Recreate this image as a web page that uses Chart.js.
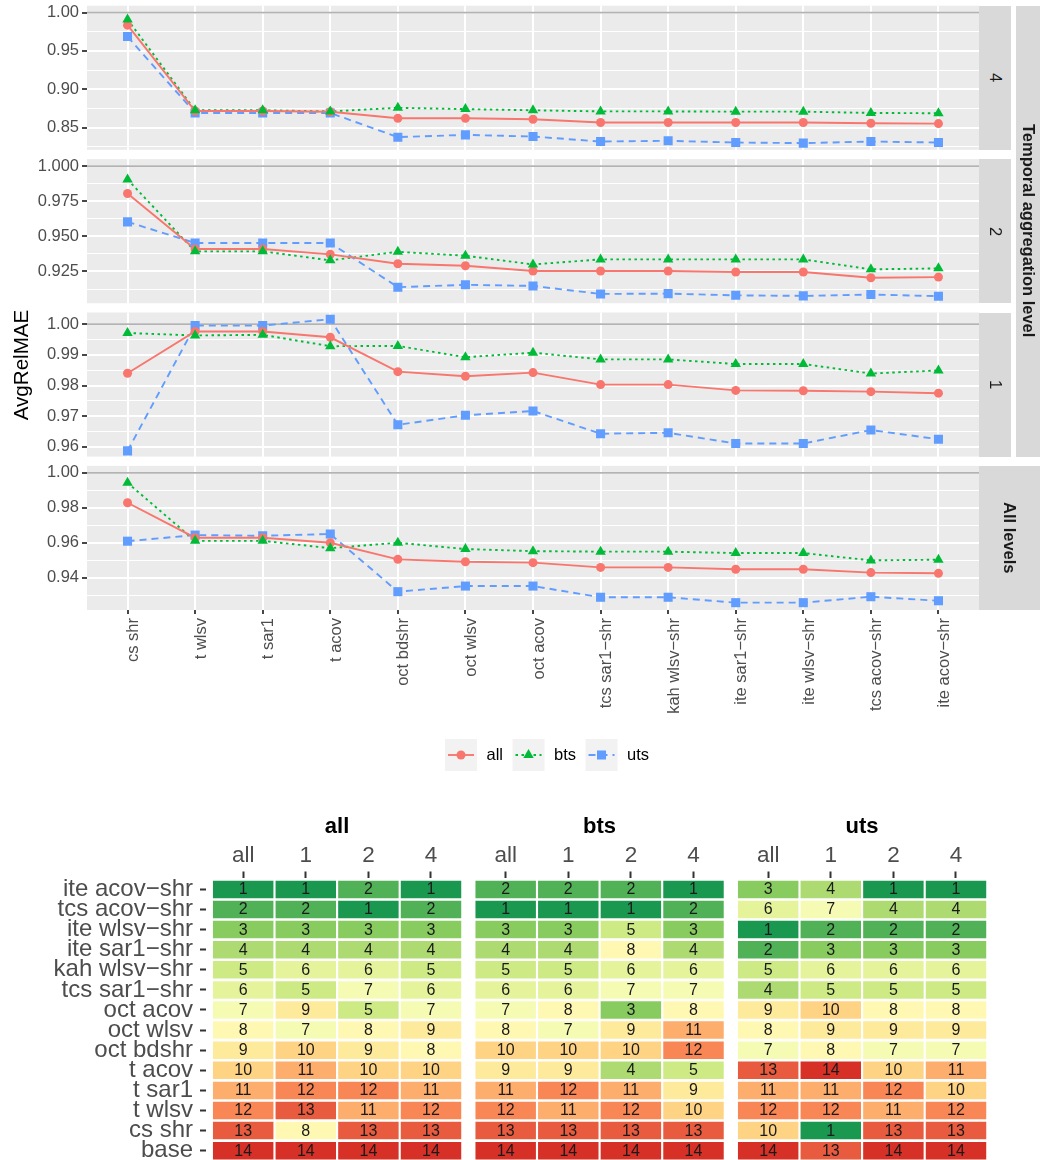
<!DOCTYPE html>
<html>
<head>
<meta charset="utf-8">
<script src="https://cdn.jsdelivr.net/npm/chart.js@4.4.1/dist/chart.umd.min.js"></script>
<style>
  html, body { margin: 0; padding: 0; background: #fff; }
  body { width: 1040px; height: 1160px; overflow: hidden; position: relative;
         font-family: "Liberation Sans", Arial, Helvetica, sans-serif; }
  canvas { position: absolute; left: 0; }
  .strip { position: absolute; background: #d9d9d9; display: flex; align-items: center;
           justify-content: center; z-index: 2; }
  .strip span { writing-mode: vertical-rl; font-size: 16.5px; color: #1a1a1a; white-space: nowrap; }
  .strip span.b { font-weight: bold; }
  #ytitle { position: absolute; left: -79px; top: 353px; width: 200px; height: 24px; line-height: 24px;
            text-align: center; font-size: 20.6px; color: #000; transform: rotate(-90deg); z-index: 2; }
</style>
</head>
<body>
<div id="ytitle">AvgRelMAE</div>
<script>
// ---- line panels: methods on the x axis ----
const methods = ['cs shr', 't wlsv', 't sar1', 't acov', 'oct bdshr', 'oct wlsv', 'oct acov',
  'tcs sar1−shr', 'kah wlsv−shr', 'ite sar1−shr', 'ite wlsv−shr', 'tcs acov−shr', 'ite acov−shr'];

// temporal aggregation level 4
const lvl4All = [0.9836, 0.8715, 0.8715, 0.8705, 0.8620, 0.8620, 0.8608, 0.8565, 0.8565, 0.8565, 0.8565, 0.8556, 0.8551];
const lvl4Bts = [0.9910, 0.8725, 0.8725, 0.8710, 0.8757, 0.8740, 0.8725, 0.8710, 0.8710, 0.8707, 0.8707, 0.8690, 0.8686];
const lvl4Uts = [0.9687, 0.8690, 0.8690, 0.8690, 0.8374, 0.8404, 0.8382, 0.8317, 0.8326, 0.8304, 0.8296, 0.8317, 0.8304];
// level 2
const lvl2All = [0.9805, 0.9410, 0.9410, 0.9372, 0.9305, 0.9291, 0.9253, 0.9253, 0.9253, 0.9246, 0.9246, 0.9205, 0.9210];
const lvl2Bts = [0.9905, 0.9393, 0.9393, 0.9329, 0.9390, 0.9362, 0.9300, 0.9336, 0.9336, 0.9336, 0.9336, 0.9265, 0.9272];
const lvl2Uts = [0.9603, 0.9453, 0.9453, 0.9453, 0.9138, 0.9155, 0.9147, 0.9090, 0.9092, 0.9080, 0.9076, 0.9086, 0.9074];
// level 1
const lvl1All = [0.9840, 0.9976, 0.9976, 0.9957, 0.9845, 0.9830, 0.9842, 0.9803, 0.9803, 0.9784, 0.9783, 0.9780, 0.9775];
const lvl1Bts = [0.9971, 0.9963, 0.9965, 0.9928, 0.9929, 0.9892, 0.9907, 0.9885, 0.9885, 0.9870, 0.9870, 0.9839, 0.9849];
const lvl1Uts = [0.9587, 0.9995, 0.9995, 1.0016, 0.9672, 0.9703, 0.9717, 0.9643, 0.9646, 0.9611, 0.9611, 0.9655, 0.9625];
// all levels
const lvlAAll = [0.9829, 0.9629, 0.9629, 0.9600, 0.9505, 0.9491, 0.9486, 0.9459, 0.9459, 0.9448, 0.9448, 0.9429, 0.9425];
const lvlABts = [0.9943, 0.9611, 0.9611, 0.9569, 0.9600, 0.9564, 0.9552, 0.9549, 0.9549, 0.9541, 0.9541, 0.9499, 0.9503];
const lvlAUts = [0.9609, 0.9644, 0.9640, 0.9650, 0.9320, 0.9352, 0.9352, 0.9288, 0.9288, 0.9257, 0.9257, 0.9291, 0.9268];

// y ticks (major labelled, minor only gridlines) and ranges
const yMajor4 = [0.85, 0.90, 0.95, 1.00], yMinor4 = [0.825, 0.875, 0.925, 0.975], yRange4 = [0.8209, 1.009];
const yMajor2 = [0.925, 0.950, 0.975, 1.000], yMinor2 = [0.9125, 0.9375, 0.9625, 0.9875], yRange2 = [0.9024, 1.005];
const yMajor1 = [0.96, 0.97, 0.98, 0.99, 1.00], yMinor1 = [0.965, 0.975, 0.985, 0.995], yRange1 = [0.95684, 1.00378];
const yMajorA = [0.94, 0.96, 0.98, 1.00], yMinorA = [0.93, 0.95, 0.97, 0.99], yRangeA = [0.9215, 1.004];
const refLine = 1;

// ---- rank heatmaps ----
const rankRows = ['ite acov−shr', 'tcs acov−shr', 'ite wlsv−shr', 'ite sar1−shr', 'kah wlsv−shr', 'tcs sar1−shr',
  'oct acov', 'oct wlsv', 'oct bdshr', 't acov', 't sar1', 't wlsv', 'cs shr', 'base'];
const rankCols = ['all', '1', '2', '4'];
const rankGroups = ['all', 'bts', 'uts'];
const rAll_all = [1, 2, 3, 4, 5, 6, 7, 8, 9, 10, 11, 12, 13, 14];
const rAll_1   = [1, 2, 3, 4, 6, 5, 9, 7, 10, 11, 12, 13, 8, 14];
const rAll_2   = [2, 1, 3, 4, 6, 7, 5, 8, 9, 10, 12, 11, 13, 14];
const rAll_4   = [1, 2, 3, 4, 5, 6, 7, 9, 8, 10, 11, 12, 13, 14];
const rBts_all = [2, 1, 3, 4, 5, 6, 7, 8, 10, 9, 11, 12, 13, 14];
const rBts_1   = [2, 1, 3, 4, 5, 6, 8, 7, 10, 9, 12, 11, 13, 14];
const rBts_2   = [2, 1, 5, 8, 6, 7, 3, 9, 10, 4, 11, 12, 13, 14];
const rBts_4   = [1, 2, 3, 4, 6, 7, 8, 11, 12, 5, 9, 10, 13, 14];
const rUts_all = [3, 6, 1, 2, 5, 4, 9, 8, 7, 13, 11, 12, 10, 14];
const rUts_1   = [4, 7, 2, 3, 6, 5, 10, 9, 8, 14, 11, 12, 1, 13];
const rUts_2   = [1, 4, 2, 3, 6, 5, 8, 9, 7, 10, 12, 11, 13, 14];
const rUts_4   = [1, 4, 2, 3, 6, 5, 8, 9, 7, 11, 10, 12, 13, 14];

// ---------------------------------------------------------------
const FONT = '"Liberation Sans", Arial, Helvetica, sans-serif';
Chart.defaults.font.family = FONT;
const W = 1040;
const PANEL_L = 87, PANEL_R = 979, PANEL_H = 144.1, PAD = 16;
const panelTops = [5.7, 159.1, 312.5, 465.9];

const seriesDefs = [
  { name: 'all', color: '#F8766D', dash: [], style: 'circle', r: 4.5, top: 2 },
  { name: 'bts', color: '#00BA38', dash: [2.5, 3.5], style: 'triangle', r: 6, top: 1 },
  { name: 'uts', color: '#619CFF', dash: [7, 5], style: 'rect', r: 6.4, top: 3 },
];

const panels = [
  { strip: '4', values: [lvl4All, lvl4Bts, lvl4Uts], major: yMajor4, minor: yMinor4, range: yRange4, dec: 2 },
  { strip: '2', values: [lvl2All, lvl2Bts, lvl2Uts], major: yMajor2, minor: yMinor2, range: yRange2, dec: 3 },
  { strip: '1', values: [lvl1All, lvl1Bts, lvl1Uts], major: yMajor1, minor: yMinor1, range: yRange1, dec: 2 },
  { strip: 'All levels', values: [lvlAAll, lvlABts, lvlAUts], major: yMajorA, minor: yMinorA, range: yRangeA, dec: 2 },
];

function isIn(arr, v) { return arr.some(a => Math.abs(a - v) < 1e-9); }

function addStrip(left, top, width, height, text, bold) {
  const d = document.createElement('div');
  d.className = 'strip';
  Object.assign(d.style, { left: left + 'px', top: top + 'px', width: width + 'px', height: height + 'px' });
  const s = document.createElement('span');
  if (bold) s.className = 'b';
  s.textContent = text;
  d.appendChild(s);
  document.body.appendChild(d);
}

function drawMarker(ctx, style, x, y, r) {
  ctx.beginPath();
  if (style === 'circle') {
    ctx.arc(x, y, r, 0, Math.PI * 2);
  } else if (style === 'triangle') {
    ctx.moveTo(x, y - r);
    ctx.lineTo(x + r * 0.866, y + r / 2);
    ctx.lineTo(x - r * 0.866, y + r / 2);
    ctx.closePath();
  } else {
    const h = r * Math.SQRT1_2;
    ctx.rect(x - h, y - h, 2 * h, 2 * h);
  }
  ctx.fill();
}

const panelBg = {
  id: 'panelBg',
  beforeDraw(chart) {
    const a = chart.chartArea, ctx = chart.ctx;
    ctx.save();
    ctx.fillStyle = '#ebebeb';
    ctx.fillRect(a.left, a.top, a.right - a.left, a.bottom - a.top);
    ctx.restore();
  },
  beforeDatasetsDraw(chart) {
    const a = chart.chartArea, ctx = chart.ctx;
    const y = chart.scales.y.getPixelForValue(refLine);
    ctx.save();
    ctx.strokeStyle = '#b3b3b3';
    ctx.lineWidth = 1.9;
    ctx.beginPath();
    ctx.moveTo(a.left, y);
    ctx.lineTo(a.right, y);
    ctx.stroke();
    ctx.restore();
  }
};

panels.forEach((p, i) => {
  const isBottom = i === panels.length - 1;
  const pt = panelTops[i];
  const ctop = Math.floor(pt) - PAD;
  const cheight = isBottom ? 800 - ctop : Math.ceil(pt + PANEL_H) + PAD - ctop;
  const padTop = pt - ctop;
  const padBottom = isBottom ? 0 : cheight - (pt + PANEL_H - ctop);
  const xAxisH = isBottom ? cheight - padTop - PANEL_H : 0;

  const cv = document.createElement('canvas');
  cv.width = W; cv.height = cheight;
  cv.style.top = ctop + 'px';
  document.body.appendChild(cv);

  const datasets = [];
  seriesDefs.forEach((s, k) => {
    datasets.push({
      label: s.name + ' line',
      data: p.values[k].map((v, j) => ({ x: j, y: v })),
      showLine: true, borderColor: s.color, borderWidth: 1.9, borderDash: s.dash,
      pointRadius: 0, pointHoverRadius: 0, order: 10 + k,
    });
  });
  seriesDefs.forEach((s, k) => {
    datasets.push({
      label: s.name,
      data: p.values[k].map((v, j) => ({ x: j, y: v })),
      showLine: false, pointStyle: s.style, pointRadius: s.r, pointHoverRadius: s.r,
      pointBackgroundColor: s.color, pointBorderColor: s.color, pointBorderWidth: 0,
      order: s.top,
    });
  });

  const plugins = [panelBg];
  if (isBottom) {
    plugins.push({
      id: 'legendKeys',
      afterDraw(chart) {
        const ctx = chart.ctx;
        const cy = 755 - ctop;
        let x = 445;
        ctx.save();
        ctx.font = '16.5px ' + FONT;
        seriesDefs.forEach(s => {
          ctx.fillStyle = '#f2f2f2';
          ctx.fillRect(x, cy - 16, 32, 32);
          ctx.strokeStyle = s.color;
          ctx.lineWidth = 1.9;
          ctx.setLineDash(s.dash);
          ctx.beginPath();
          ctx.moveTo(x + 3, cy);
          ctx.lineTo(x + 29, cy);
          ctx.stroke();
          ctx.setLineDash([]);
          ctx.fillStyle = s.color;
          drawMarker(ctx, s.style, x + 16, cy, s.r);
          ctx.fillStyle = '#000';
          ctx.textBaseline = 'middle';
          ctx.textAlign = 'left';
          ctx.fillText(s.name, x + 41.5, cy);
          x += 41.5 + ctx.measureText(s.name).width + 9.5;
        });
        ctx.restore();
      }
    });
  }

  new Chart(cv, {
    type: 'scatter',
    data: { datasets },
    plugins,
    options: {
      responsive: false, animation: false, devicePixelRatio: 1,
      events: [],
      layout: { padding: { left: 0, right: W - PANEL_R, top: padTop, bottom: padBottom } },
      plugins: { legend: { display: false }, tooltip: { enabled: false } },
      scales: {
        x: {
          type: 'linear', min: -0.6, max: methods.length - 0.4,
          afterBuildTicks: sc => { sc.ticks = methods.map((m, j) => ({ value: j })); },
          afterFit: sc => { sc.height = xAxisH; },
          border: { display: false },
          grid: { color: '#ffffff', lineWidth: 2, drawTicks: isBottom, tickLength: 4,
                  tickColor: '#333333', tickWidth: 1.8 },
          ticks: { display: isBottom, autoSkip: false, minRotation: 90, maxRotation: 90,
                   padding: 4, labelOffset: 6, color: '#4d4d4d', font: { size: 16.5 },
                   callback: (v) => methods[Math.round(v)] }
        },
        y: {
          type: 'linear', min: p.range[0], max: p.range[1],
          afterBuildTicks: sc => {
            sc.ticks = p.major.concat(p.minor).sort((a, b) => a - b).map(v => ({ value: v }));
          },
          afterFit: sc => { sc.width = PANEL_L; },
          border: { display: false },
          grid: {
            color: '#ffffff',
            lineWidth: c => (c.tick && isIn(p.major, c.tick.value)) ? 2 : 1,
            tickColor: c => (c.tick && isIn(p.major, c.tick.value)) ? '#333333' : 'rgba(0,0,0,0)',
            tickLength: 5, tickWidth: 1.8
          },
          ticks: { autoSkip: false, padding: 3, color: '#4d4d4d', font: { size: 16.5 },
                   callback: v => isIn(p.major, v) ? v.toFixed(p.dec) : '' }
        }
      }
    }
  });

  if (!isBottom) addStrip(PANEL_R, pt, 32, PANEL_H, p.strip, false);
  else addStrip(PANEL_R, pt, W - PANEL_R, PANEL_H, p.strip, true);
});
addStrip(1016, panelTops[0], W - 1016, panelTops[2] + PANEL_H - panelTops[0], 'Temporal aggregation level', true);

// ---------------- heatmap ----------------
const rankData = [[rAll_all, rAll_1, rAll_2, rAll_4], [rBts_all, rBts_1, rBts_2, rBts_4], [rUts_all, rUts_1, rUts_2, rUts_4]];
const GROUP_STEP = 4.193;
const paletteRdYlGn = ['#1a9850', '#91cf60', '#d9ef8b', '#ffffbf', '#fee08b', '#fc8d59', '#d73027'];
function hexRgb(h) { return [1, 3, 5].map(k => parseInt(h.substr(k, 2), 16)); }
function rankColor(r) {
  const t = (r - 1) / (rankRows.length - 1) * (paletteRdYlGn.length - 1);
  const i = Math.min(paletteRdYlGn.length - 2, Math.floor(t));
  const f = t - i;
  const a = hexRgb(paletteRdYlGn[i]), b = hexRgb(paletteRdYlGn[i + 1]);
  return 'rgb(' + a.map((v, k) => Math.round(v + (b[k] - v) * f)).join(',') + ')';
}

const hmTop = 800, hmH = 385;
const hmCanvas = document.createElement('canvas');
hmCanvas.width = W; hmCanvas.height = hmH;
hmCanvas.style.top = hmTop + 'px';
document.body.appendChild(hmCanvas);

const hmDatasets = [];
const colCenters = [];
rankGroups.forEach((g, gi) => rankCols.forEach((c, ci) => {
  const ranks = rankData[gi][ci];
  const cx = gi * GROUP_STEP + ci;
  colCenters.push(cx);
  hmDatasets.push({
    label: g + ' ' + c,
    ranks,
    data: ranks.map((r, i) => ({ y: i, x: [cx - 0.5, cx + 0.5] })),
    backgroundColor: ranks.map(rankColor),
    borderColor: '#ffffff',
    borderWidth: { top: 1.65, bottom: 1.65, left: 1.4, right: 1.4 },
    borderSkipped: false, grouped: false, barPercentage: 1, categoryPercentage: 1,
  });
}));

const hmLabels = {
  id: 'hmLabels',
  afterDatasetsDraw(chart) {
    const ctx = chart.ctx;
    ctx.save();
    ctx.font = '16px ' + FONT;
    ctx.fillStyle = '#1a1a1a';
    ctx.textAlign = 'center';
    ctx.textBaseline = 'middle';
    chart.data.datasets.forEach((ds, di) => {
      chart.getDatasetMeta(di).data.forEach((el, i) => {
        const c = el.getCenterPoint();
        ctx.fillText(String(ds.ranks[i]), c.x, c.y + 0.5);
      });
    });
    ctx.restore();
  },
  afterDraw(chart) {
    const ctx = chart.ctx, xs = chart.scales.x;
    ctx.save();
    ctx.font = 'bold 22px ' + FONT;
    ctx.fillStyle = '#000';
    ctx.textAlign = 'center';
    ctx.textBaseline = 'alphabetic';
    rankGroups.forEach((g, gi) => {
      ctx.fillText(g, xs.getPixelForValue(gi * GROUP_STEP + 1.5), 833 - hmTop);
    });
    ctx.restore();
  }
};

new Chart(hmCanvas, {
  type: 'bar',
  data: { datasets: hmDatasets },
  plugins: [hmLabels],
  options: {
    indexAxis: 'y',
    responsive: false, animation: false, devicePixelRatio: 1,
    events: [],
    layout: { padding: { left: 0, right: W - 987.3, top: 0, bottom: hmH - (1160.75 - hmTop) } },
    plugins: { legend: { display: false }, tooltip: { enabled: false } },
    scales: {
      x: {
        type: 'linear', position: 'top', min: -0.594, max: 2 * GROUP_STEP + 3.5,
        beginAtZero: false,
        afterBuildTicks: sc => { sc.ticks = colCenters.map(v => ({ value: v })); },
        afterFit: sc => { sc.height = 877.5 - hmTop; },
        border: { display: false },
        grid: { display: true, drawOnChartArea: false, drawTicks: true, tickLength: 6,
                tickColor: '#333333', tickWidth: 2, offset: false },
        ticks: { autoSkip: false, maxRotation: 0, padding: 2, color: '#4d4d4d', font: { size: 22.5 },
                 callback: (v, idx) => rankCols[idx % rankCols.length] }
      },
      y: {
        type: 'linear', reverse: true, offset: false, min: -0.592, max: rankRows.length - 0.5,
        afterBuildTicks: sc => { sc.ticks = rankRows.map((r, i) => ({ value: i })); },
        afterFit: sc => { sc.width = 206; },
        border: { display: false },
        grid: { display: true, drawOnChartArea: false, drawTicks: true, tickLength: 6,
                tickColor: '#333333', tickWidth: 2, offset: false },
        ticks: { autoSkip: false, padding: 7, color: '#4d4d4d', font: { size: 24 },
                 callback: (v, idx) => rankRows[idx] }
      }
    }
  }
});
</script>
</body>
</html>
